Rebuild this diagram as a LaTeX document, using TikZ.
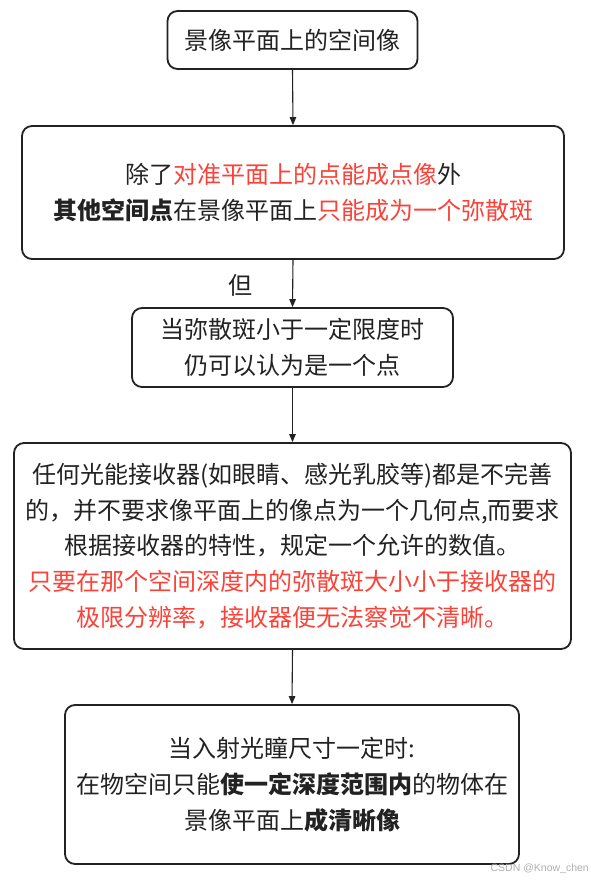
\documentclass[tikz,border=0pt]{standalone}
\usepackage{fontspec}
\setmainfont{Noto Sans CJK SC}
\newfontfamily\markfont{Liberation Sans}
\usepackage{xcolor}
\usetikzlibrary{arrows.meta}
\definecolor{inkgray}{RGB}{34,34,34}
\definecolor{keyred}{RGB}{250,66,56}
\definecolor{markgray}{RGB}{175,175,175}
\newcommand{\keytxt}[1]{\textcolor{keyred}{#1}}
\tikzset{
	flowbox/.style={draw=inkgray,line width=1.8pt,rounded corners=10pt,align=center,text=inkgray,inner sep=0pt,font=\fontsize{24}{35.8}\selectfont},
	flowarrow/.style={-{Triangle[length=8pt,width=6.5pt]},line width=1.1pt,draw=inkgray}
}

\begin{document}
\begin{tikzpicture}[line cap=round,line join=round,x=1pt,y=-1pt]
		\useasboundingbox (0,0) rectangle (591,880);
		% boxes
		\node[flowbox,minimum width=250pt,minimum height=58pt] (image) at (292.5,40) {景像平面上的空间像};
		\node[flowbox,minimum width=542pt,minimum height=133pt] (blur) at (293,192.5) {除了\keytxt{对准平面上的点能成点像}外\\\textbf{其他空间点}在景像平面上\keytxt{只能成为一个弥散斑}};
		\node[flowbox,minimum width=321pt,minimum height=79pt] (limit) at (292.5,347.5) {当弥散斑小于一定限度时\\仍可以认为是一个点};
		\node[flowbox,minimum width=557pt,minimum height=206pt] (receiver) at (292.5,546) {任何光能接收器(如眼睛、感光乳胶等)都是不完善\\的，并不要求像平面上的像点为一个几何点,而要求\\根据接收器的特性，规定一个允许的数值。\\\keytxt{只要在那个空间深度内的弥散斑大小小于接收器的}\\\keytxt{极限分辨率，接收器便无法察觉不清晰。}};
		\node[flowbox,minimum width=454pt,minimum height=159pt] (depth) at (292,784.5) {当入射光瞳尺寸一定时:\\在物空间只能\textbf{使一定深度范围内}的物体在\\景像平面上\textbf{成清晰像}};
		% arrows
		\draw[flowarrow] (image.south) -- (blur.north);
		\draw[flowarrow] (blur.south) -- (limit.north);
		\draw[flowarrow] (limit.south) -- (receiver.north);
		\draw[flowarrow] (receiver.south) -- (depth.north);
		\node[text=inkgray,font=\fontsize{24}{28}\selectfont] (but) at (240,285) {但};
		\node[anchor=east,text=markgray,inner sep=0pt,font=\markfont\fontsize{10.5}{12}\selectfont] (mark) at (589,869) {CSDN @Know\_chen};
\end{tikzpicture}
\end{document}
